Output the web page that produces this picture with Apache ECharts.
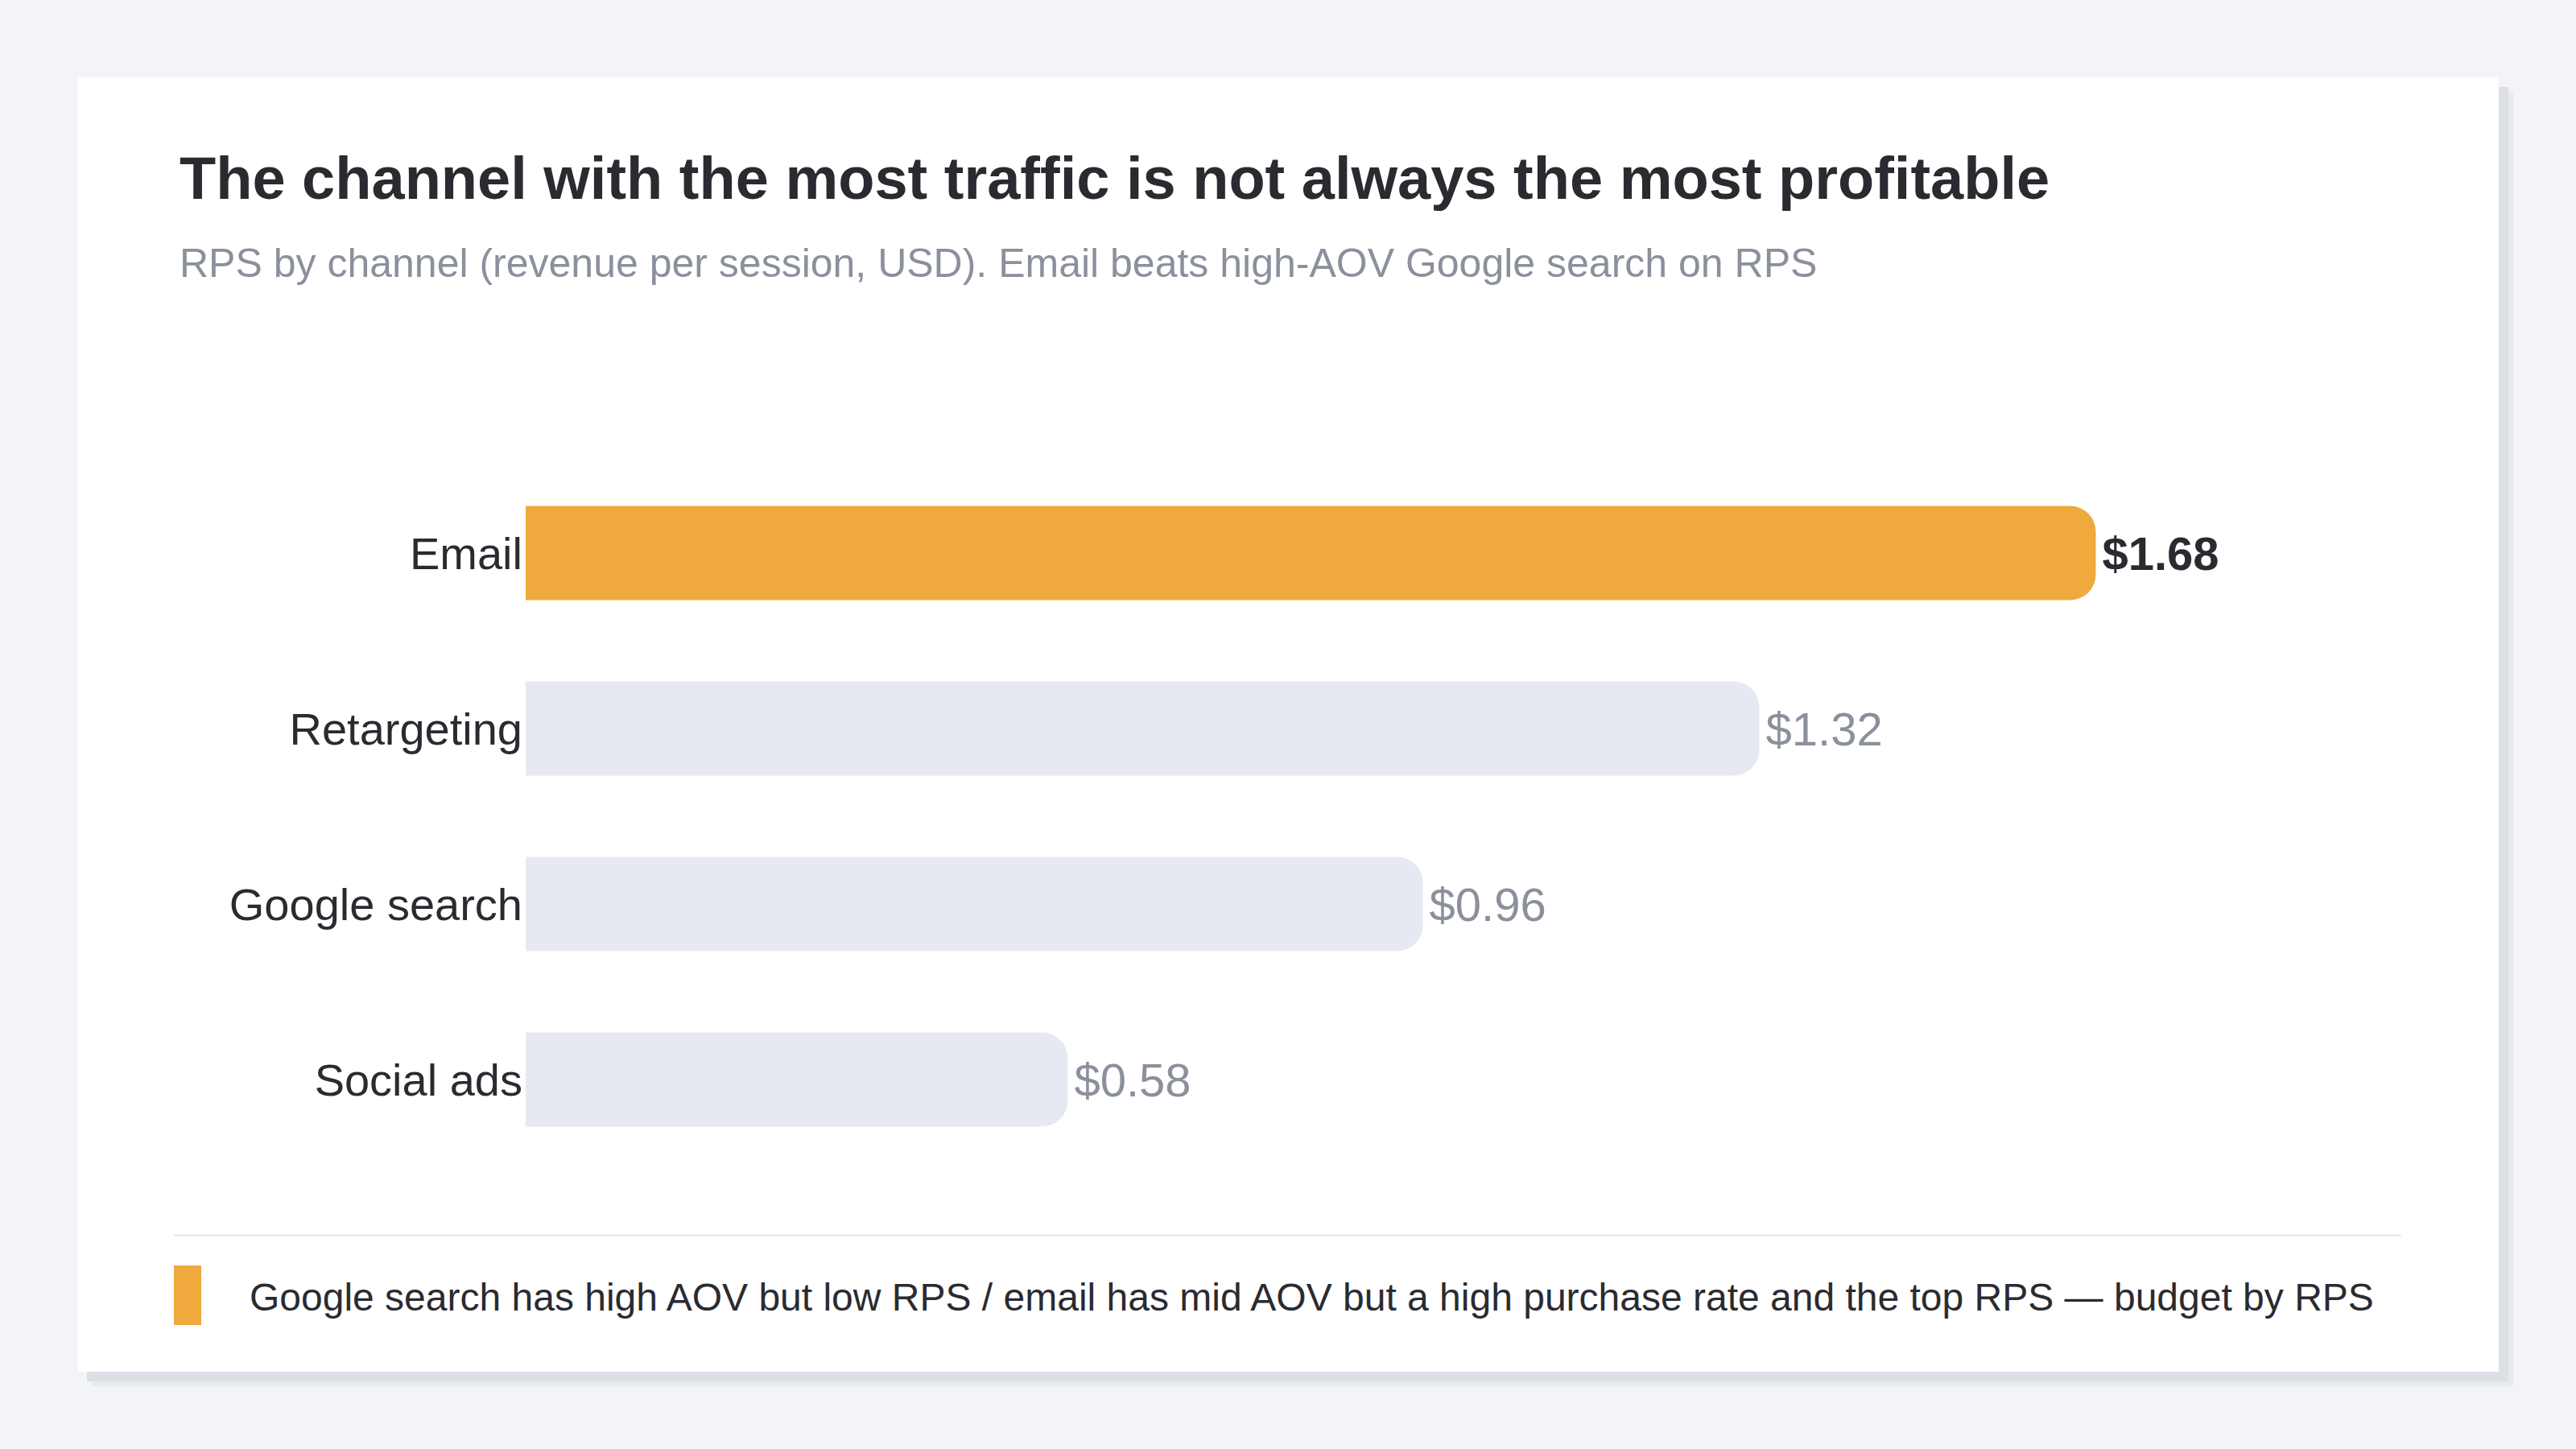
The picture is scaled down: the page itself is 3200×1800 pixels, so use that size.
<!DOCTYPE html>
<html>
<head>
<meta charset="utf-8">
<script src="https://cdn.jsdelivr.net/npm/echarts@6/dist/echarts.min.js"></script>
<style>
  html, body { margin: 0; padding: 0; background: #f3f4f8; }
  #chart { width: 3200px; height: 1800px; }
</style>
</head>
<body>
<div id="chart"></div>
<script>
  // channels, top to bottom
  const channels = ['Email', 'Retargeting', 'Google search', 'Social ads'];
  // revenue per session, USD
  const rps = [1.68, 1.32, 0.96, 0.58];
  const highlight = 'Email';

  const titleText = 'The channel with the most traffic is not always the most profitable';
  const subText = 'RPS by channel (revenue per session, USD). Email beats high-AOV Google search on RPS';
  const noteText = 'Google search has high AOV but low RPS / email has mid AOV but a high purchase rate and the top RPS \u2014 budget by RPS';

  const FONT = '"Liberation Sans", Arial, Helvetica, sans-serif';
  const ORANGE = '#f0a93c';
  const GREY_BAR = '#e6e9f1';
  const DARK = '#2a2b30';
  const MUTED = '#8a909c';

  const chart = echarts.init(document.getElementById('chart'), null, { renderer: 'svg' });

  const option = {
    backgroundColor: '#f3f4f8',
    animation: false,
    textStyle: { fontFamily: FONT },
    graphic: [
      // card shadow + card
      { type: 'rect', z: -10, shape: { x: 114, y: 114, width: 3008, height: 1608 }, style: { fill: '#e8e9ef' } },
      { type: 'rect', z: -9, shape: { x: 108, y: 108, width: 3008, height: 1608 }, style: { fill: '#dcdfe6' } },
      { type: 'rect', z: -8, shape: { x: 96, y: 96, width: 3008, height: 1608 }, style: { fill: '#ffffff' } },
      // separator above the note
      { type: 'rect', shape: { x: 216, y: 1533, width: 2767, height: 3 }, style: { fill: '#eceef3' } },
      // note marker and text
      { type: 'rect', shape: { x: 216, y: 1572, width: 34, height: 74 }, style: { fill: ORANGE } },
      {
        type: 'text', x: 310, y: 1611,
        style: { text: noteText, fill: DARK, font: '48px ' + FONT, verticalAlign: 'middle', align: 'left' }
      }
    ],
    title: {
      text: titleText,
      subtext: subText,
      left: 218,
      top: 179,
      itemGap: 44,
      textStyle: { fontFamily: FONT, fontSize: 74, fontWeight: 'bold', color: DARK },
      subtextStyle: { fontFamily: FONT, fontSize: 50, color: MUTED }
    },
    grid: {
      left: 653,
      right: 225,
      top: 578,
      height: 872
    },
    xAxis: {
      type: 'value',
      min: 0,
      max: 2,
      show: false,
      splitLine: { show: false }
    },
    yAxis: {
      type: 'category',
      inverse: true,
      data: channels,
      axisLine: { show: false },
      axisTick: { show: false },
      axisLabel: {
        color: DARK,
        fontSize: 56,
        fontFamily: FONT,
        margin: 4
      }
    },
    series: [
      {
        type: 'bar',
        barWidth: 117,
        data: channels.map((name, i) => {
          const isTop = name === highlight;
          return {
            value: rps[i],
            itemStyle: {
              color: isTop ? ORANGE : GREY_BAR,
              borderRadius: [0, 32, 32, 0]
            },
            label: {
              show: true,
              position: 'right',
              distance: 8,
              fontFamily: FONT,
              fontSize: 58,
              fontWeight: isTop ? 'bold' : 'normal',
              color: isTop ? DARK : MUTED,
              formatter: p => '$' + p.value.toFixed(2)
            }
          };
        })
      }
    ]
  };

  chart.setOption(option);
</script>
</body>
</html>
